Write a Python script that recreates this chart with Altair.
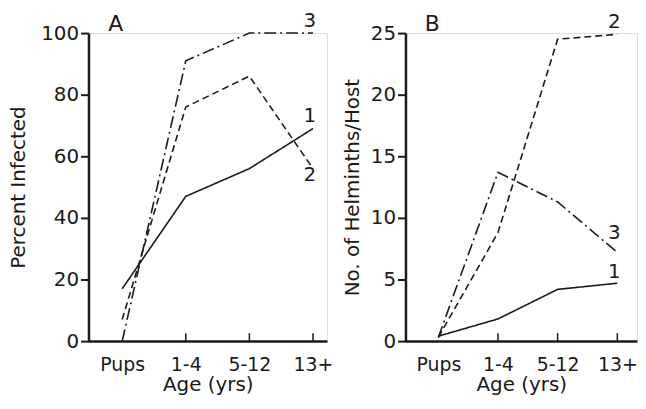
import json
import altair as alt
import pandas as pd

# ---- data ----
ages = ["Pups", "1-4", "5-12", "13+"]
age_pos = [0, 1, 2, 3]
series = ["1", "2", "3"]

# Panel A: Percent infected
a_s1 = [17, 47, 56, 69]
a_s2 = [7, 76, 86, 56]
a_s3 = [0, 91, 100, 100]
a_label_y = [73, 54, 104]
a_letter_y = 103

# Panel B: No. of helminths / host
b_s1 = [0.4, 1.8, 4.2, 4.7]
b_s2 = [0.3, 8.8, 24.5, 24.9]
b_s3 = [0.3, 13.7, 11.3, 7.2]
b_label_y = [5.6, 25.9, 8.8]
b_letter_y = 25.7

label_x = 2.95
letter_x = -0.1
FONT = "DejaVu Sans"
INK = "#1a1a1a"

label_expr = json.dumps(ages) + "[datum.value]"


def panel(vals, label_y, letter, letter_y, ymax, ystep, ytitle, xdom, w, h, tpad):
    rows = []
    for s, v in zip(series, vals):
        for p, y in zip(age_pos, v):
            rows.append({"pos": p, "value": y, "series": s})
    df = pd.DataFrame(rows)
    ldf = pd.DataFrame({"pos": [label_x] * 3, "value": label_y, "series": series})
    tdf = pd.DataFrame({"pos": age_pos[1:]})
    letdf = pd.DataFrame({"pos": [letter_x], "value": [letter_y], "txt": [letter]})

    xscale = alt.Scale(domain=xdom, nice=False, zero=False)
    yscale = alt.Scale(domain=[0, ymax], nice=False)

    xaxis = alt.Axis(
        values=age_pos, labelExpr=label_expr, tickSize=0, grid=False,
        title="Age (yrs)", labelFontSize=19, titleFontSize=20,
        labelPadding=15, titlePadding=0, domainWidth=2.5, domainColor=INK,
        labelColor=INK, titleColor=INK, labelFont=FONT, titleFont=FONT,
        titleFontWeight="normal",
    )
    yaxis = alt.Axis(
        values=list(range(0, ymax + 1, ystep)), tickSize=8, tickWidth=2,
        tickColor=INK, grid=False, title=ytitle, labelFontSize=20,
        titleFontSize=20, labelPadding=2, titlePadding=tpad, domainWidth=2.5,
        domainColor=INK, labelColor=INK, titleColor=INK, labelFont=FONT,
        titleFont=FONT, titleFontWeight="normal",
    )

    lines = alt.Chart(df).mark_line(color=INK, strokeWidth=1.6).encode(
        x=alt.X("pos:Q", scale=xscale, axis=xaxis),
        y=alt.Y("value:Q", scale=yscale, axis=yaxis),
        strokeDash=alt.StrokeDash(
            "series:N",
            scale=alt.Scale(domain=series, range=[[1, 0], [7, 4], [12, 4, 2, 4]]),
            legend=None,
        ),
        detail="series:N",
    )
    ticks = alt.Chart(tdf).mark_rule(color=INK, strokeWidth=1.5).encode(
        x="pos:Q", y=alt.value(h), y2=alt.value(h - 8)
    )
    labels = alt.Chart(ldf).mark_text(
        font=FONT, fontSize=20, color=INK, align="center", baseline="middle"
    ).encode(x="pos:Q", y="value:Q", text="series:N")
    letter_mark = alt.Chart(letdf).mark_text(
        font=FONT, fontSize=22, color=INK, align="center", baseline="middle"
    ).encode(x="pos:Q", y="value:Q", text="txt:N")

    return alt.layer(lines, ticks, labels, letter_mark).properties(width=w, height=h)


pa = panel([a_s1, a_s2, a_s3], a_label_y, "A", a_letter_y, 100, 20,
           "Percent Infected", [-0.53, 3.22], 240, 310, 12)
pb = panel([b_s1, b_s2, b_s3], b_label_y, "B", b_letter_y, 25, 5,
           "No. of Helminths/Host", [-0.55, 3.33], 233, 310, 8)

chart = alt.hconcat(pa, pb, spacing=8).properties(
    padding={"left": 0, "top": 1, "right": 0, "bottom": 0}
).configure_view(strokeWidth=0).configure(background="white")

chart.save("out.html", embed_options={"renderer": "svg", "actions": False})
